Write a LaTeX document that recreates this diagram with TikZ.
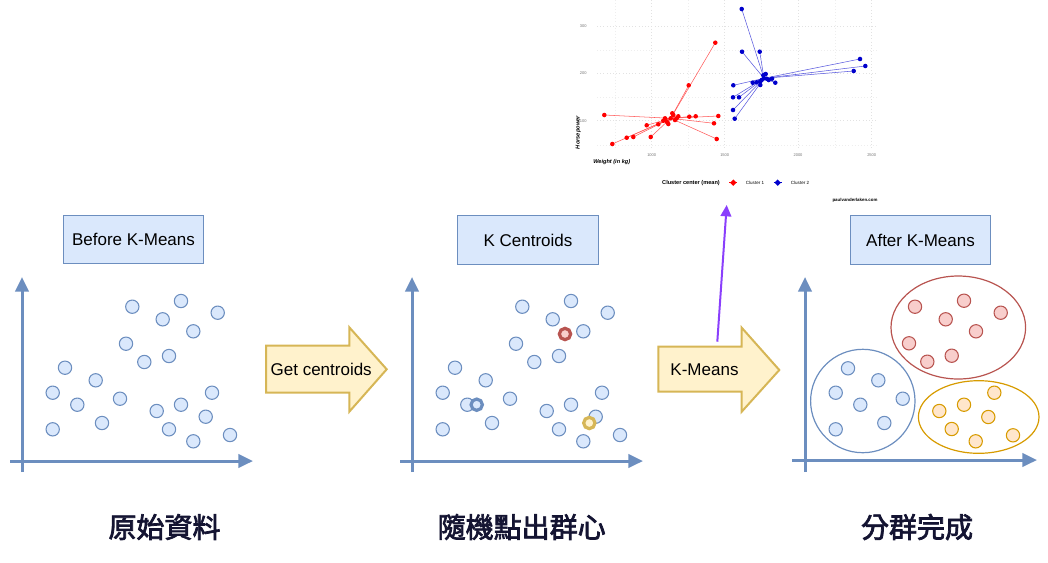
\documentclass[tikz,border=0pt]{standalone}
\usepackage{fontspec}
\setmainfont{Liberation Sans}
\newfontfamily\cjk{Noto Sans CJK TC}
\newcommand\heavytext[1]{\special{pdf:literal direct 2 Tr 0.55 w}#1\special{pdf:literal direct 0 Tr}}
\usetikzlibrary{arrows.meta,shapes.geometric,backgrounds}
\definecolor{bstroke}{HTML}{6C8EBF}
\definecolor{bfill}{HTML}{DAE8FC}
\definecolor{rstroke}{HTML}{B85450}
\definecolor{rfill}{HTML}{F8CECC}
\definecolor{ostroke}{HTML}{D79B00}
\definecolor{ofill}{HTML}{FFE6CC}
\definecolor{ystroke}{HTML}{D6B656}
\definecolor{yfill}{HTML}{FFF2CC}
\definecolor{navy}{HTML}{141432}
\definecolor{purp}{HTML}{8A3FFC}
\definecolor{gridc}{HTML}{E2E2E2}
\definecolor{ggred}{HTML}{FF0000}
\definecolor{ggblue}{HTML}{0000CC}
\tikzset{
  dotb/.style={circle, draw=bstroke, fill=bfill, line width=0.8pt, minimum size=10pt, inner sep=0pt},
  dotr/.style={circle, draw=rstroke, fill=rfill, line width=0.8pt, minimum size=10pt, inner sep=0pt},
  doto/.style={circle, draw=ostroke, fill=ofill, line width=0.8pt, minimum size=10pt, inner sep=0pt},
  ring/.style={circle, line width=2.4pt, minimum size=8.5pt, inner sep=0pt},
  axis/.style={draw=bstroke, line width=2.25pt, -{Triangle[length=11pt,width=10pt]}},
  titlebox/.style={rectangle, draw=bstroke, fill=bfill, line width=0.75pt, minimum width=105.5pt, minimum height=36.5pt, font=\fontsize{12.75}{15}\selectfont, text=black},
  blockarrow/.style={draw=ystroke, fill=yfill, line width=1.5pt, line join=miter},
  arrowtext/.style={font=\fontsize{12.75}{15}\selectfont, text=black, inner sep=0pt},
  cjklabel/.style={font=\cjk\fontsize{21}{24}\selectfont, text=navy},
  cluster/.style={line width=0.9pt, fill=none},
  rpt/.style={circle, fill=ggred, minimum size=3.4pt, inner sep=0pt},
  bpt/.style={circle, fill=ggblue, minimum size=3.4pt, inner sep=0pt},
  rline/.style={draw=ggred!65, line width=0.4pt},
  bline/.style={draw=ggblue!65, line width=0.4pt},
  tick/.style={font=\fontsize{3}{3.5}\selectfont, text=black!55, inner sep=0pt},
}
\begin{document}
\begin{tikzpicture}[x=0.75pt,y=-0.75pt]
\useasboundingbox (0,0) rectangle (1048,562);

% ---------------- inset plot ----------------
\begin{scope}[on background layer]
  \foreach \gx in {615,688,761.3,834.7} \draw[gridc!60, line width=0.3pt, dotted] (\gx,0) -- (\gx,150);
  \foreach \gy in {49.7,97.3,144.7} \draw[gridc!60, line width=0.3pt, dotted] (597,\gy) -- (878,\gy);
  \foreach \gx in {651.7,724.7,798,871.7} \draw[gridc, line width=0.4pt, dotted] (\gx,0) -- (\gx,150);
  \foreach \gy in {26,73.3,120.7} \draw[gridc, line width=0.4pt, dotted] (597,\gy) -- (878,\gy);
\end{scope}

\coordinate (rc) at (670.7,118.3);
\coordinate (bc) at (764,78.3);

\foreach \x/\y [count=\i] in {604.3/115, 612.3/144, 626.7/137.7, 633.3/137, 646.7/125.3, 650.7/137, 658.3/124.3, 688.7/85.3, 715.3/42.7, 718.3/116, 714/123.3, 716.7/139, 695.7/116.3, 689.3/116.7, 678.3/116.3, 665/118.3, 666.7/121.7, 668.3/124, 673.3/115, 675/120, 663.3/120.7, 672.3/113.3, 676.7/118.3, 670.7/118.3}
  \node[rpt] (r\i) at (\x,\y) {};
\foreach \x/\y [count=\i] in {741.7/9, 742/51.7, 759.7/51.7, 860/59, 865.3/66, 853.7/71, 733.3/85.3, 733/97.3, 739/97.3, 733/110, 734.7/118.7, 752.7/82.7, 756.7/82.3, 760.3/85, 775.3/82.7, 772/78.7, 766.7/78.7, 763.3/75.3, 765.7/74, 761.7/80, 768.7/80, 760.3/81.3, 764/78.3}
  \node[bpt] (b\i) at (\x,\y) {};
\begin{scope}[on background layer]
  \foreach \i in {1,...,24} \draw[rline] (rc) -- (r\i.center);
  \foreach \i in {1,...,23} \draw[bline] (bc) -- (b\i.center);
\end{scope}

\node[tick] (t300) at (583.3,26) {300};
\node[tick] (t200) at (583.3,73.3) {200};
\node[tick] (t100) at (583.3,120.7) {100};
\node[tick] (t1000) at (651.7,155) {1000};
\node[tick] (t1500) at (724.7,155) {1500};
\node[tick] (t2000) at (798,155) {2000};
\node[tick] (t2500) at (871.7,155) {2500};
\node[font=\bfseries\itshape\fontsize{4.3}{5}\selectfont, rotate=90, inner sep=0pt] (hp) at (578.3,132.5) {Horsepower};
\node[font=\bfseries\itshape\fontsize{4.2}{5}\selectfont, inner sep=0pt] (wt) at (611.7,162.3) {Weight (in kg)};
\node[font=\bfseries\fontsize{4.2}{5}\selectfont, inner sep=0pt] (lg) at (691,182.7) {Cluster center (mean)};
\draw[ggred, line width=0.5pt] (729.3,182.7) -- (737.3,182.7);
\node[diamond, fill=ggred, minimum size=5pt, inner sep=0pt] (lk1) at (733.3,182.7) {};
\node[font=\fontsize{3.4}{4}\selectfont, inner sep=0pt] (l1) at (755,182.7) {Cluster 1};
\draw[ggblue, line width=0.5pt] (773.7,182.7) -- (781.7,182.7);
\node[diamond, fill=ggblue, minimum size=5pt, inner sep=0pt] (lk2) at (777.7,182.7) {};
\node[font=\fontsize{3.4}{4}\selectfont, inner sep=0pt] (l2) at (800,182.7) {Cluster 2};
\node[font=\bfseries\fontsize{3.3}{4}\selectfont, inner sep=0pt] (src) at (855,200) {paulvanderlaken.com};

% ---------------- titles ----------------
\node[titlebox] (t1) at (133.5,239.5) {Before K-Means};
\node[titlebox] (t2) at (528,240) {K Centroids};
\node[titlebox] (t3) at (920.5,240) {After K-Means};

% ---------------- left panel ----------------
\coordinate (la0) at (22,472); \coordinate (la1) at (22,277);
\coordinate (lb0) at (10,461); \coordinate (lb1) at (253,461);
\draw[axis] (la0) -- (la1);
\draw[axis] (lb0) -- (lb1);
\foreach \x/\y [count=\i] in {132.3/306.7, 181/301, 162.7/319.3, 217.7/312.7, 193.3/331.3, 126/343.7, 144.3/362, 169/356, 65/367.7, 95.7/380.3, 52.7/392.7, 77.3/404.7, 120/398.7, 52.7/429.3, 102/423, 156.7/411, 181/404.7, 212/392.7, 205.7/416.7, 169/429.3, 193.3/441.3, 230/435}
  \node[dotb] (p\i) at (\x,\y) {};

% ---------------- middle panel ----------------
\coordinate (ma0) at (412,472); \coordinate (ma1) at (412,277);
\coordinate (mb0) at (400,461); \coordinate (mb1) at (643,461);
\draw[axis] (ma0) -- (ma1);
\draw[axis] (mb0) -- (mb1);
\foreach \x/\y [count=\i] in {132.3/306.7, 181/301, 162.7/319.3, 217.7/312.7, 193.3/331.3, 126/343.7, 144.3/362, 169/356, 65/367.7, 95.7/380.3, 52.7/392.7, 77.3/404.7, 120/398.7, 52.7/429.3, 102/423, 156.7/411, 181/404.7, 212/392.7, 205.7/416.7, 169/429.3, 193.3/441.3, 230/435}
  \node[dotb] (q\i) at (\x+390,\y) {};
\node[ring, draw=rstroke, fill=rfill] (c1) at (565,334) {};
\node[ring, draw=bstroke, fill=bfill] (c2) at (476.7,404.7) {};
\node[ring, draw=ystroke, fill=yfill] (c3) at (589.3,423) {};

% ---------------- right panel ----------------
\coordinate (ra0) at (805,472); \coordinate (ra1) at (805,277);
\coordinate (rb0) at (792,460); \coordinate (rb1) at (1037,460);
\draw[axis] (ra0) -- (ra1);
\draw[axis] (rb0) -- (rb1);
\draw[cluster, draw=rstroke] (958.3,327.5) ellipse [x radius=67.3, y radius=51.5];
\draw[cluster, draw=bstroke] (862.8,401) ellipse [x radius=52.2, y radius=51.7];
\draw[cluster, draw=ostroke] (978.7,417) ellipse [x radius=60.3, y radius=36.3];
\foreach \x/\y [count=\i] in {915/306.7, 964/300.7, 1000.7/312.7, 945.7/319.3, 976/331.3, 909/343.3, 951.7/355.7, 927.3/361.7}
  \node[dotr] (sr\i) at (\x,\y) {};
\foreach \x/\y [count=\i] in {848/368.3, 878.3/380.3, 835.7/392.7, 860.3/404.7, 902.7/398.7, 835.7/429.3, 884.3/423}
  \node[dotb] (sb\i) at (\x,\y) {};
\foreach \x/\y [count=\i] in {994.3/392.7, 939.3/411, 964/404.7, 988.3/417, 951.7/429, 975.7/441.3, 1013/435.3}
  \node[doto] (so\i) at (\x,\y) {};

% ---------------- block arrows ----------------
\draw[blockarrow] (266,345.7) -- (349.3,345.7) -- (349.3,327.3) -- (386.7,369.3) -- (349.3,411.7) -- (349.3,392.7) -- (266,392.7) -- cycle;
\node[arrowtext] (ga) at (321.2,369.3) {Get centroids};
\draw[blockarrow] (658.3,346.7) -- (741.7,346.7) -- (741.7,327.7) -- (779.3,370) -- (741.7,411.7) -- (741.7,391.7) -- (658.3,391.7) -- cycle;
\node[arrowtext] (ka) at (704.5,370) {K-Means};

% purple connector
\coordinate (pa) at (717.3,341.7);
\coordinate (pb) at (726.7,205);
\draw[draw=purp, line width=1.5pt, -{Triangle[length=8.5pt,width=8pt]}] (pa) -- (pb);

% ---------------- chinese labels ----------------
\node[cjklabel] (z1) at (164.5,527) {\heavytext{原始資料}};
\node[cjklabel] (z2) at (521.7,527) {\heavytext{隨機點出群心}};
\node[cjklabel] (z3) at (917,527) {\heavytext{分群完成}};
\end{tikzpicture}
\end{document}
